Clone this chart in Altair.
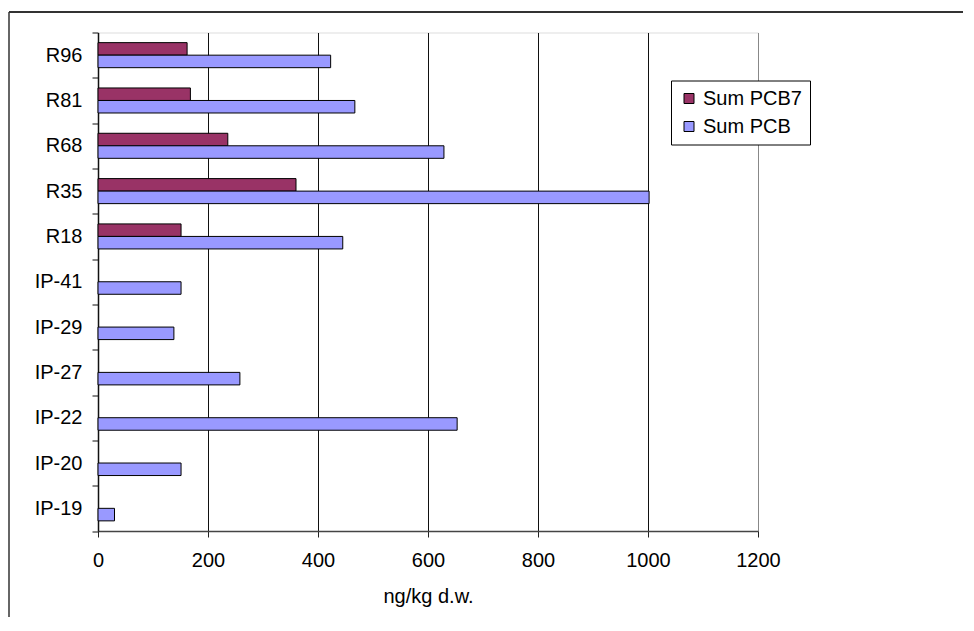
import altair as alt
import pandas as pd

sites = ["R96", "R81", "R68", "R35", "R18", "IP-41", "IP-29", "IP-27", "IP-22", "IP-20", "IP-19"]
sum_pcb7 = [162, 168, 236, 360, 151, None, None, None, None, None, None]
sum_pcb = [423, 467, 629, 1002, 445, 151, 138, 258, 653, 151, 30]
series_names = ["Sum PCB7", "Sum PCB"]
series_colors = ["#993366", "#9999FF"]
x_ticks = [0, 200, 400, 600, 800, 1000, 1200]

rows = []
for s, a, b in zip(sites, sum_pcb7, sum_pcb):
    if a is not None:
        rows.append({"site": s, "series": "Sum PCB7", "value": a})
    rows.append({"site": s, "series": "Sum PCB", "value": b})
df = pd.DataFrame(rows)

FONT = "Liberation Sans"
FS = 20

bars = alt.Chart(df).mark_bar(stroke="black", strokeWidth=1).encode(
    x=alt.X(
        "value:Q",
        scale=alt.Scale(domain=[0, 1200], nice=False),
        axis=alt.Axis(
            values=x_ticks,
            format="d",
            labelFlush=False,
            title="ng/kg d.w.",
            grid=True,
            gridColor={"condition": {"test": "datum.value == 0 || datum.value == 1200", "value": "#888888"}, "value": "#111111"},
            gridWidth=1,
            domainColor="#444444",
            domainWidth=1.5,
            tickColor="#222222",
            tickSize=6,
            labelPadding=13,
            labelFontSize=FS,
            labelColor="black",
            labelFont=FONT,
            titleFont=FONT,
            titleFontSize=FS,
            titleFontWeight="normal",
            titleColor="black",
            titlePadding=16,
        ),
    ),
    y=alt.Y(
        "site:N",
        sort=sites,
        scale=alt.Scale(domain=sites, paddingInner=0, paddingOuter=0),
        axis=alt.Axis(
            title=None,
            tickBand="extent",
            tickSize=6,
            tickColor="#111111",
            domainColor="#111111",
            domainWidth=1.5,
            labelPadding=10,
            labelFontSize=FS,
            labelColor="black",
            labelFont=FONT,
            grid=False,
        ),
    ),
    yOffset=alt.YOffset(
        "series:N",
        sort=series_names,
        scale=alt.Scale(domain=series_names, paddingInner=0, paddingOuter=0.81),
    ),
    color=alt.Color(
        "series:N",
        scale=alt.Scale(domain=series_names, range=series_colors),
        legend=alt.Legend(
            title=None,
            orient="none",
            legendX=573,
            legendY=48,
            direction="vertical",
            symbolType="square",
            symbolSize=100,
            symbolStrokeColor="black",
            symbolStrokeWidth=1,
            labelFontSize=FS,
            labelFont=FONT,
            labelColor="black",
            labelOffset=4,
            labelExpr="datum.value == 'Sum PCB7' ? '\\u00a0Sum PCB7\\u00a0\\u00a0' : datum.value",
            strokeColor="black",
            fillColor="white",
            padding=8,
            rowPadding=8,
        ),
    ),
)

frame_df = pd.DataFrame({"k": [0]})
frame_top = alt.Chart(frame_df).mark_rule(color="#333333", strokeWidth=2).encode(
    x=alt.value(-89), x2=alt.value(900), y=alt.value(-20.5)
)
frame_left = alt.Chart(frame_df).mark_rule(color="#333333", strokeWidth=1.5).encode(
    x=alt.value(-89), y=alt.value(-20.5), y2=alt.value(700)
)

chart = alt.layer(frame_top, frame_left, bars).properties(
    width=660,
    height=498.5,
    autosize=alt.AutoSizeParams(type="none"),
    padding={"left": 90, "top": 24.5, "right": 205, "bottom": 86},
).configure_view(
    stroke="#888888", strokeWidth=1
).configure(background="white")

chart.save("out.html", embed_options={"renderer": "svg", "actions": False})
